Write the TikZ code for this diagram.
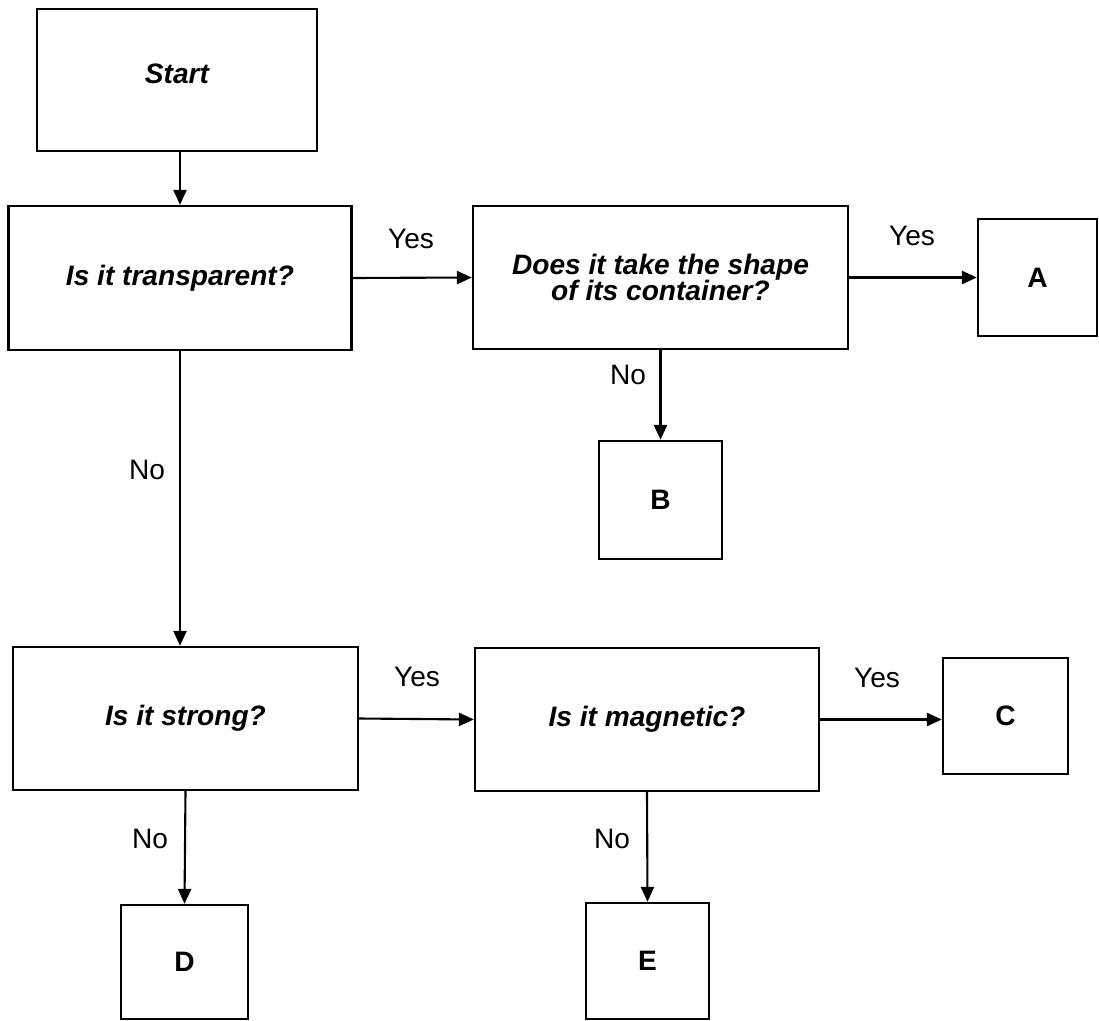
\documentclass[tikz,border=0pt]{standalone}
\usepackage{fontspec}
\setmainfont{Liberation Sans}
\usetikzlibrary{arrows.meta}
\begin{document}
\begin{tikzpicture}[>={Triangle[length=8.5pt,width=7.5pt]},x=0.02cm,y=-0.02cm,
	box/.style={draw,line width=1.4pt,inner sep=0pt,align=center,font=\fontsize{16}{19}\selectfont\bfseries\itshape},
	leaf/.style={draw,line width=1.4pt,inner sep=0pt,font=\fontsize{16}{19}\selectfont\bfseries},
	lbl/.style={inner sep=0pt,font=\fontsize{16}{19}\selectfont},
	link/.style={->,line width=1.2pt}]
	\def\px{0.02cm}
	\useasboundingbox (0,0) rectangle (1099,1021);
	% questions
	\node[box,minimum width=280*\px,minimum height=142*\px,text depth=12*\px] (start) at (177,80) {Start};
	\node[box,minimum width=343*\px,minimum height=144*\px] (trans) at (180,278) {Is it transparent?};
	\node[box,minimum width=375*\px,minimum height=143*\px] (shape) at (660.5,277.5) {Does it take the shape\\[-4pt]of its container?};
	\node[box,minimum width=345*\px,minimum height=143*\px] (strong) at (185.5,718.5) {Is it strong?};
	\node[box,minimum width=344*\px,minimum height=143*\px] (magn) at (647,719.5) {Is it magnetic?};
	% answers
	\node[leaf,minimum width=119*\px,minimum height=117*\px] (a) at (1037.5,277.5) {A};
	\node[leaf,minimum width=123*\px,minimum height=118*\px] (b) at (660.5,500) {B};
	\node[leaf,minimum width=125*\px,minimum height=116*\px] (c) at (1005.5,716) {C};
	\node[leaf,minimum width=127*\px,minimum height=114*\px] (d) at (184.5,962) {D};
	\node[leaf,minimum width=123*\px,minimum height=116*\px] (e) at (647.5,961) {E};
	% arrows
	\draw[link] (trans.north |- start.south) -- (trans.north);
	\draw[link] (trans.east) -- (shape.west);
	\draw[link] (shape.east) -- (a.west);
	\draw[link] (shape.south) -- (b.north);
	\draw[link] (trans.south) -- (trans.south |- strong.north);
	\draw[link] (strong.east) -- (magn.west);
	\draw[link] (magn.east) -- (magn.east -| c.west);
	\draw[link] (strong.south) -- (d.north);
	\draw[link] (magn.south) -- (e.north);
	% yes / no
	\node[lbl] (yesa) at (411,239) {Yes};
	\node[lbl] (yesb) at (912,236) {Yes};
	\node[lbl] (nob) at (628,375) {No};
	\node[lbl] (nos) at (147,470) {No};
	\node[lbl] (yesc) at (417,677) {Yes};
	\node[lbl] (yesd) at (877,678) {Yes};
	\node[lbl] (nod) at (150,839) {No};
	\node[lbl] (noe) at (612,839) {No};
\end{tikzpicture}
\end{document}
